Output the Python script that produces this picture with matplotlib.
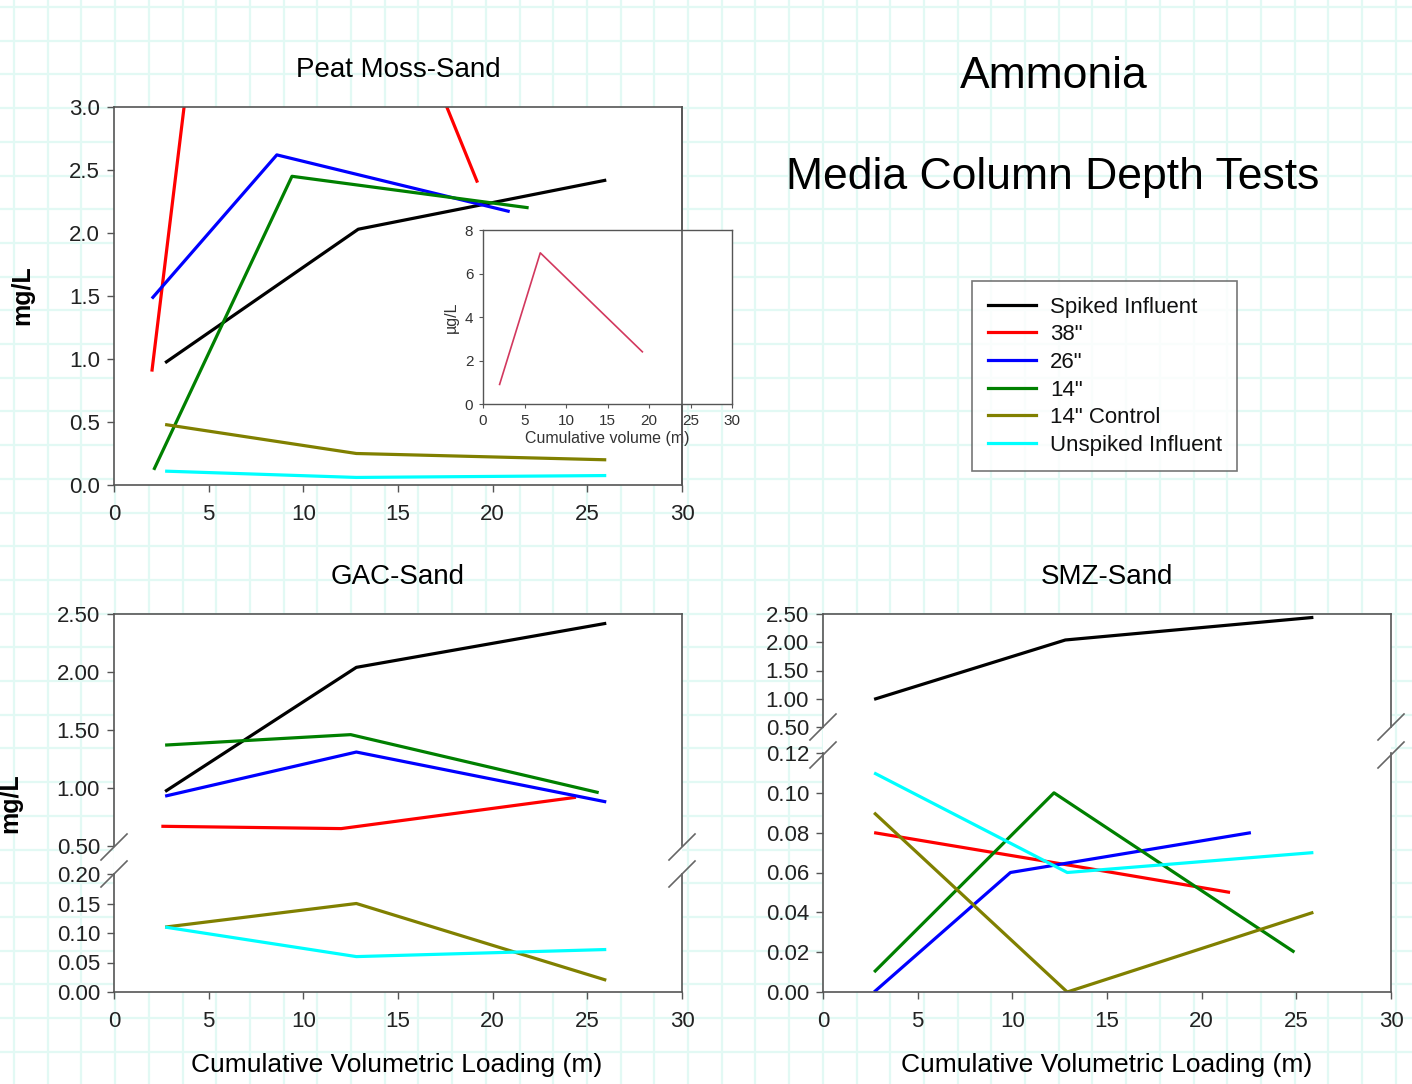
import numpy as np
import matplotlib
matplotlib.use("Agg")
import matplotlib.pyplot as plt
from matplotlib.lines import Line2D
from matplotlib.patches import Rectangle

plt.rcParams['font.family'] = ['Liberation Sans', 'DejaVu Sans']

# series names and colours (legend order)
series_names = ['Spiked Influent', '38"', '26"', '14"', '14" Control', 'Unspiked Influent']
series_colors = ['#000000', '#ff0000', '#0000ff', '#008000', '#808000', '#00ffff']

# Peat Moss-Sand (mg/L)
peat_x = [[2.7, 12.9, 26.0],
          [2.0, 6.9, 19.2],
          [2.0, 8.6, 20.9],
          [2.1, 9.4, 21.9],
          [2.7, 12.8, 26.0],
          [2.7, 12.8, 26.0]]
peat_y = [[0.97, 2.03, 2.42],
          [0.90, 6.95, 2.40],
          [1.48, 2.62, 2.17],
          [0.12, 2.45, 2.20],
          [0.48, 0.25, 0.20],
          [0.11, 0.06, 0.075]]

# inset: 38" peat moss column (ug/L)
inset_x = [2.0, 6.9, 19.2]
inset_y = [0.9, 6.95, 2.4]

# GAC-Sand
gac_x = [[2.7, 12.8, 26.0],
         [2.5, 12.0, 24.4],
         [2.7, 12.8, 26.0],
         [2.7, 12.5, 25.6],
         [2.7, 12.8, 26.0],
         [2.7, 12.8, 26.0]]
gac_y = [[0.97, 2.04, 2.42],
         [0.67, 0.65, 0.92],
         [0.93, 1.31, 0.88],
         [1.37, 1.46, 0.96],
         [0.11, 0.15, 0.02],
         [0.11, 0.06, 0.072]]

# SMZ-Sand
smz_x = [[2.7, 12.8, 25.9],
         [2.7, 12.8, 21.5],
         [2.7, 9.9, 22.6],
         [2.7, 12.2, 24.9],
         [2.7, 12.9, 25.9],
         [2.7, 12.9, 25.9]]
smz_y = [[0.99, 2.04, 2.44],
         [0.080, 0.064, 0.050],
         [0.0, 0.060, 0.080],
         [0.010, 0.100, 0.020],
         [0.090, 0.0, 0.040],
         [0.110, 0.060, 0.070]]

x_ticks = [0, 5, 10, 15, 20, 25, 30]

W, H = 1412, 1084
fig = plt.figure(figsize=(W / 100, H / 100), dpi=100)
fig.patch.set_facecolor('white')


def box(left, top, right, bottom):
    # pixel box -> figure fraction
    return [left / W, 1 - bottom / H, (right - left) / W, (bottom - top) / H]


def fx(px):
    return px / W


def fy(py):
    return 1 - py / H


# faint graph-paper background
bg = fig.add_axes([0, 0, 1, 1], zorder=-10)
bg.set_xlim(0, W)
bg.set_ylim(H, 0)
bg.axis('off')
for gx in np.arange(14, W, 33.7):
    bg.axvline(gx, color='#e2f9f4', lw=1.6)
for gy in np.arange(7, H, 33.7):
    bg.axhline(gy, color='#e2f9f4', lw=1.6)

spine_col = '#555555'
tick_col = '#222222'


def style(ax, fmt, yticks, ylim, show_x=True):
    ax.set_facecolor('white')
    ax.set_xlim(0, 30)
    ax.set_ylim(*ylim)
    ax.set_yticks(yticks)
    ax.set_yticklabels([fmt % v for v in yticks])
    ax.set_xticks(x_ticks)
    ax.set_xticklabels([str(t) for t in x_ticks])
    for s in ax.spines.values():
        s.set_color(spine_col)
        s.set_linewidth(1.2)
    ax.tick_params(direction='out', length=5, width=1, colors=spine_col,
                   labelcolor=tick_col, labelsize=16)
    ax.tick_params(axis='x', pad=9)
    ax.tick_params(axis='y', pad=5)
    if not show_x:
        ax.spines['bottom'].set_visible(False)
        ax.tick_params(axis='x', bottom=False, labelbottom=False)


def draw(ax, xs, ys):
    for x, y, c in zip(xs, ys, series_colors):
        ax.plot(x, y, color=c, lw=2.3, solid_capstyle='butt')


def break_marks(xpx_list, ypx):
    for xp in xpx_list:
        fig.add_artist(Line2D([fx(xp - 13), fx(xp + 13)], [fy(ypx + 13), fy(ypx - 13)],
                              color='#666666', lw=1.2, zorder=5))


def gap_fill(left, top, right, bottom):
    # white band inside the plot where the axis is broken
    fig.add_artist(Rectangle((fx(left), fy(bottom)), (right - left) / W,
                             (bottom - top) / H, transform=fig.transFigure,
                             facecolor='white', edgecolor='none', zorder=-5))


# --- Peat Moss-Sand ---
ax1 = fig.add_axes(box(114, 107, 682, 485))
style(ax1, '%.1f', [0, 0.5, 1.0, 1.5, 2.0, 2.5, 3.0], (0, 3.0))
draw(ax1, peat_x, peat_y)
fig.text(fx(398), fy(70), 'Peat Moss-Sand', ha='center', va='center', fontsize=20)
fig.text(fx(22), fy(295), 'mg/L', ha='center', va='center', rotation=90,
         fontsize=18, fontweight='bold')

# inset
axi = fig.add_axes(box(483, 230, 732, 404))
axi.set_facecolor('white')
axi.plot(inset_x, inset_y, color='#d2385e', lw=1.2)
axi.set_xlim(0, 30)
axi.set_ylim(0, 8)
axi.set_xticks(x_ticks)
axi.set_yticks([0, 2, 4, 6, 8])
for s in axi.spines.values():
    s.set_color(spine_col)
    s.set_linewidth(1)
axi.tick_params(direction='out', length=3, width=0.8, colors=spine_col,
                labelcolor='#333333', labelsize=11, pad=4)
axi.set_xlabel('Cumulative volume (m)', fontsize=11.5, color='#333333', labelpad=2)
axi.set_ylabel('µg/L', fontsize=11.5, color='#333333', labelpad=4)
# main frame's right edge runs over the inset
fig.add_artist(Line2D([fx(682), fx(682)], [fy(107), fy(485)], color=spine_col,
                      lw=1.2, zorder=5))

# --- GAC-Sand ---
ax2u = fig.add_axes(box(114, 614, 682, 846))
ax2l = fig.add_axes(box(114, 874, 682, 992))
gap_fill(114, 840, 682, 880)
style(ax2u, '%.2f', [0.5, 1.0, 1.5, 2.0, 2.5], (0.5, 2.5), show_x=False)
style(ax2l, '%.2f', [0, 0.05, 0.10, 0.15, 0.20], (0, 0.2))
ax2l.spines['top'].set_visible(False)
draw(ax2u, gac_x, gac_y)
draw(ax2l, gac_x, gac_y)
break_marks([114, 682], 847)
break_marks([114, 682], 874)
fig.text(fx(398), fy(577), 'GAC-Sand', ha='center', va='center', fontsize=20)
fig.text(fx(10), fy(803), 'mg/L', ha='center', va='center', rotation=90,
         fontsize=18, fontweight='bold')
fig.text(fx(397), fy(1065), 'Cumulative Volumetric Loading (m)', ha='center',
         va='center', fontsize=19)

# --- SMZ-Sand ---
ax3u = fig.add_axes(box(823, 614, 1391, 727))
ax3l = fig.add_axes(box(823, 753, 1391, 992))
gap_fill(823, 720, 1391, 760)
style(ax3u, '%.2f', [0.5, 1.0, 1.5, 2.0, 2.5], (0.5, 2.5), show_x=False)
style(ax3l, '%.2f', [0, 0.02, 0.04, 0.06, 0.08, 0.10, 0.12], (0, 0.12))
ax3l.spines['top'].set_visible(False)
draw(ax3u, smz_x, smz_y)
draw(ax3l, smz_x, smz_y)
break_marks([823, 1391], 727)
break_marks([823, 1391], 755)
fig.text(fx(1107), fy(577), 'SMZ-Sand', ha='center', va='center', fontsize=20)
fig.text(fx(1107), fy(1065), 'Cumulative Volumetric Loading (m)', ha='center',
         va='center', fontsize=19)

# --- titles ---
fig.text(fx(1054), fy(77), 'Ammonia', ha='center', va='center', fontsize=32)
fig.text(fx(1053), fy(178), 'Media Column Depth Tests', ha='center', va='center',
         fontsize=32)

# --- legend ---
handles = [Line2D([], [], color=c, lw=2.3) for c in series_colors]
leg = fig.legend(handles, series_names, loc='upper left',
                 bbox_to_anchor=(fx(972), fy(281)), fontsize=16,
                 frameon=True, fancybox=False, borderpad=0.7,
                 labelspacing=0.3, handlelength=2.2, handletextpad=0.6,
                 borderaxespad=0)
leg.get_frame().set_edgecolor('#555555')
leg.get_frame().set_linewidth(1.2)
for t in leg.get_texts():
    t.set_color('#111111')

fig.savefig('out.png', dpi=100, facecolor='white')
